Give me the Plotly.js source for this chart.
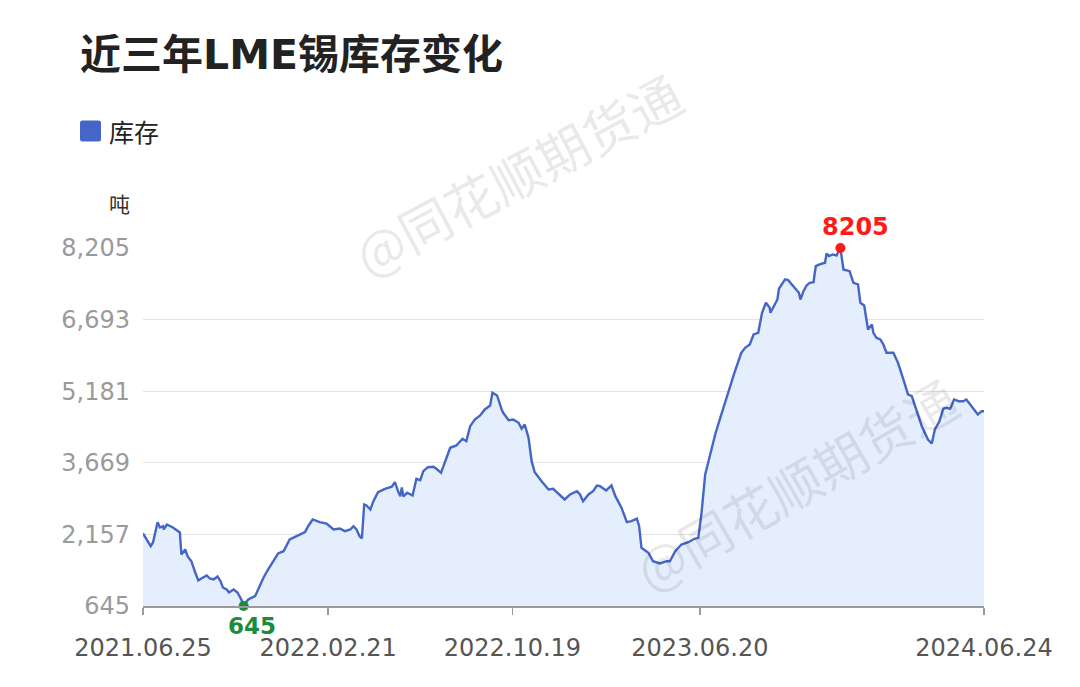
<!DOCTYPE html>
<html>
<head>
<meta charset="utf-8">
<script src="https://cdn.plot.ly/plotly-3.0.1.min.js"></script>
<style>html,body{margin:0;padding:0;background:#fff;}#chart{width:1080px;height:687px;}</style>
</head>
<body>
<div id="chart"></div>
<script>
// ---- data ----
const dates = [
"2021-06-25","2021-06-30","2021-07-05","2021-07-08","2021-07-14","2021-07-17","2021-07-21","2021-07-22","2021-07-26","2021-08-03",
"2021-08-12","2021-08-14","2021-08-19","2021-08-22","2021-08-27","2021-09-01","2021-09-05","2021-09-09","2021-09-16","2021-09-20",
"2021-09-25","2021-09-30","2021-10-04","2021-10-07","2021-10-12","2021-10-15","2021-10-21","2021-10-26","2021-10-31","2021-11-03",
"2021-11-09","2021-11-18","2021-11-24","2021-11-29","2021-12-05","2021-12-12","2021-12-18","2021-12-25","2021-12-29","2022-01-02",
"2022-01-11","2022-01-15","2022-01-22","2022-01-26","2022-02-01","2022-02-10","2022-02-19","2022-02-28","2022-03-08","2022-03-15",
"2022-03-22","2022-03-26","2022-03-30","2022-04-03","2022-04-06","2022-04-09","2022-04-12","2022-04-17","2022-04-21","2022-04-27",
"2022-05-06","2022-05-15","2022-05-19","2022-05-23","2022-05-26","2022-05-28","2022-05-30","2022-06-04","2022-06-11","2022-06-16",
"2022-06-21","2022-06-25","2022-07-01","2022-07-08","2022-07-12","2022-07-18","2022-07-23","2022-07-30","2022-08-07","2022-08-12",
"2022-08-15","2022-08-20","2022-08-25","2022-08-31","2022-09-07","2022-09-13","2022-09-20","2022-09-23","2022-09-29","2022-10-05",
"2022-10-07","2022-10-14","2022-10-20","2022-10-27","2022-10-31","2022-11-04","2022-11-09","2022-11-13","2022-11-17","2022-11-26",
"2022-12-05","2022-12-11","2022-12-18","2022-12-26","2023-01-02","2023-01-11","2023-01-15","2023-01-19","2023-01-26","2023-02-01",
"2023-02-06","2023-02-10","2023-02-18","2023-02-25","2023-03-02","2023-03-10","2023-03-17","2023-03-23","2023-03-30","2023-04-02",
"2023-04-05","2023-04-14","2023-04-20","2023-04-29","2023-05-08","2023-05-12","2023-05-19","2023-05-27","2023-06-05","2023-06-13",
"2023-06-18","2023-06-22","2023-06-27","2023-07-03","2023-07-10","2023-07-16","2023-07-25","2023-07-29","2023-08-04","2023-08-13",
"2023-08-18","2023-08-24","2023-08-29","2023-09-04","2023-09-09","2023-09-14","2023-09-19","2023-09-20","2023-09-24","2023-09-29",
"2023-10-01","2023-10-09","2023-10-13","2023-10-18","2023-10-22","2023-10-27","2023-10-29","2023-11-02","2023-11-06","2023-11-10",
"2023-11-15","2023-11-18","2023-11-23","2023-11-30","2023-12-02","2023-12-05","2023-12-10","2023-12-15","2023-12-20","2023-12-24",
"2024-01-01","2024-01-06","2024-01-12","2024-01-15","2024-01-20","2024-01-25","2024-01-30","2024-02-01","2024-02-05","2024-02-10",
"2024-02-14","2024-02-18","2024-02-27","2024-03-04","2024-03-11","2024-03-17","2024-03-22","2024-03-28","2024-04-04","2024-04-12",
"2024-04-17","2024-04-21","2024-04-27","2024-05-02","2024-05-06","2024-05-11","2024-05-16","2024-05-22","2024-05-28","2024-06-01",
"2024-06-06","2024-06-12","2024-06-16","2024-06-21","2024-06-24"
];
const stock = [
2180,2050,1908,1986,2415,2303,2330,2261,2366,2303,
2197,1733,1838,1697,1591,1353,1184,1226,1289,1226,
1205,1268,1169,1036,993,930,993,930,782,645,
782,852,1063,1247,1416,1591,1754,1802,1944,2049,
2119,2155,2204,2330,2472,2415,2387,2261,2282,2225,
2261,2330,2261,2119,2071,2789,2768,2683,2858,3048,
3120,3163,3260,3070,2964,3148,2958,3036,2979,3332,
3302,3492,3576,3585,3543,3458,3669,3986,4035,4126,
4176,4126,4442,4584,4668,4795,4880,5148,5091,4795,
4725,4569,4584,4514,4387,4478,4197,3703,3471,3281,
3105,3120,3021,2894,3000,3070,3000,2858,3000,3070,
3190,3175,3084,3190,2964,2719,2415,2436,2487,2330,
1874,1769,1591,1543,1591,1591,1802,1944,1992,2064,
2085,2577,3422,3809,4267,4584,5076,5287,5570,5993,
6098,6168,6379,6415,6837,7049,6943,6837,6977,7118,
7344,7541,7526,7435,7344,7260,7118,7294,7414,7471,
7484,7822,7858,7893,8090,8033,8069,8047,8205,7752,
7716,7471,7435,7049,6992,6485,6590,6415,6309,6273,
6168,5993,5993,5781,5429,5112,5076,4795,4442,4161,
4077,4373,4548,4810,4831,4810,5006,4970,4970,5006,
4901,4759,4689,4759,4759
];
const seriesName = "库存";
const yTicks = [645, 2157, 3669, 5181, 6693, 8205];
const xTickDates = ["2021-06-25", "2022-02-21", "2022-10-19", "2023-06-20", "2024-06-24"];
const xTickLabels = ["2021.06.25", "2022.02.21", "2022.10.19", "2023.06.20", "2024.06.24"];
const titleText = "近三年LME锡库存变化";
const unitText = "吨";
const watermarkText = "@同花顺期货通";

// ---- derived ----
let iMax = 0, iMin = 0;
stock.forEach((v, i) => { if (v > stock[iMax]) iMax = i; if (v < stock[iMin]) iMin = i; });

const LINE = "#4566c8";
const W = 1080, H = 687;
const L = 143, R = 96, T = 248, B = 81;
const pw = W - L - R, ph = H - T - B;
const px = x => (x - L) / pw;          // pixel -> paper x
const py = y => (H - B - y) / ph;      // pixel -> paper y

const traces = [
  {
    x: dates, y: stock, type: "scatter", mode: "lines", name: seriesName,
    line: {color: LINE, width: 2.4}, fill: "tozeroy", fillcolor: "#e5eefc",
    hoverinfo: "x+y", showlegend: false
  },
  {
    x: [dates[iMax]], y: [stock[iMax]], type: "scatter", mode: "markers",
    marker: {color: "#ff1a1a", size: 10}, cliponaxis: false, showlegend: false, hoverinfo: "skip"
  },
  {
    x: [dates[iMin]], y: [stock[iMin]], type: "scatter", mode: "markers",
    marker: {color: "#1a8c3c", size: 10}, cliponaxis: false, showlegend: false, hoverinfo: "skip"
  }
];

const baseFont = "DejaVu Sans, Noto Sans CJK SC, sans-serif";
const cjkFont = "Noto Sans CJK SC, DejaVu Sans, sans-serif";

const layout = {
  width: W, height: H,
  margin: {l: L, r: R, t: T, b: B, pad: 0},
  paper_bgcolor: "#ffffff", plot_bgcolor: "#ffffff",
  showlegend: false,
  title: {
    text: "<b>" + titleText + "</b>",
    x: 80 / W, xanchor: "left", xref: "container",
    y: 1 - 55 / H, yanchor: "middle", yref: "container",
    font: {family: baseFont, size: 41, color: "#222222"}
  },
  xaxis: {
    type: "date",
    range: [xTickDates[0], xTickDates[xTickDates.length - 1]],
    tickmode: "array", tickvals: xTickDates, ticktext: xTickLabels,
    showgrid: false, zeroline: false,
    showline: true, linecolor: "#9a9a9a", linewidth: 1.5,
    ticks: "outside", ticklen: 7, tickcolor: "#9a9a9a", tickwidth: 1.5,
    ticklabelstandoff: 13,
    tickfont: {family: baseFont, size: 24, color: "#555555"},
    fixedrange: true
  },
  yaxis: {
    range: [yTicks[0], yTicks[yTicks.length - 1]],
    tickmode: "array", tickvals: yTicks, tickformat: ",d",
    showgrid: true, gridcolor: "#e3e3e3", gridwidth: 1,
    zeroline: false, showline: false, ticks: "",
    ticklabelstandoff: 12,
    tickfont: {family: baseFont, size: 24, color: "#9a9a9a"},
    fixedrange: true
  },
  shapes: [
    {
      type: "path", xref: "paper", yref: "paper",
      xsizemode: "pixel", ysizemode: "pixel",
      xanchor: px(90.5), yanchor: py(131),
      path: "M-8,-10.5 L8,-10.5 Q10.5,-10.5 10.5,-8 L10.5,8 Q10.5,10.5 8,10.5 L-8,10.5 Q-10.5,10.5 -10.5,8 L-10.5,-8 Q-10.5,-10.5 -8,-10.5 Z",
      fillcolor: LINE, line: {width: 0}
    }
  ],
  annotations: [
    {
      text: seriesName, xref: "paper", yref: "paper", x: px(107), y: py(131),
      xanchor: "left", yanchor: "middle", showarrow: false,
      font: {family: cjkFont, size: 25, color: "#222222"}
    },
    {
      text: unitText, xref: "paper", yref: "paper", x: px(119.5), y: py(203),
      xanchor: "center", yanchor: "middle", showarrow: false,
      font: {family: cjkFont, size: 21, color: "#333333"}
    },
    {
      text: "<b>" + stock[iMax] + "</b>", x: dates[iMax], y: stock[iMax],
      xref: "x", yref: "y", showarrow: false, xanchor: "center", yanchor: "middle",
      xshift: 15, yshift: 21,
      font: {family: baseFont, size: 24, color: "#ff1a1a"}
    },
    {
      text: "<b>" + stock[iMin] + "</b>", x: dates[iMin], y: stock[iMin],
      xref: "x", yref: "y", showarrow: false, xanchor: "center", yanchor: "middle",
      xshift: 8, yshift: -20,
      font: {family: baseFont, size: 23, color: "#1a8c3c"}
    },
    {
      text: watermarkText, xref: "paper", yref: "paper", x: px(517), y: py(174),
      xanchor: "center", yanchor: "middle", showarrow: false, textangle: -28,
      font: {family: cjkFont, size: 52, color: "rgba(0,0,0,0.085)"}
    },
    {
      text: watermarkText, xref: "paper", yref: "paper", x: px(795), y: py(483),
      xanchor: "center", yanchor: "middle", showarrow: false, textangle: -30,
      font: {family: cjkFont, size: 52, color: "rgba(0,0,0,0.085)"}
    }
  ]
};

Plotly.newPlot("chart", traces, layout, {displayModeBar: false, staticPlot: true});
</script>
</body>
</html>
